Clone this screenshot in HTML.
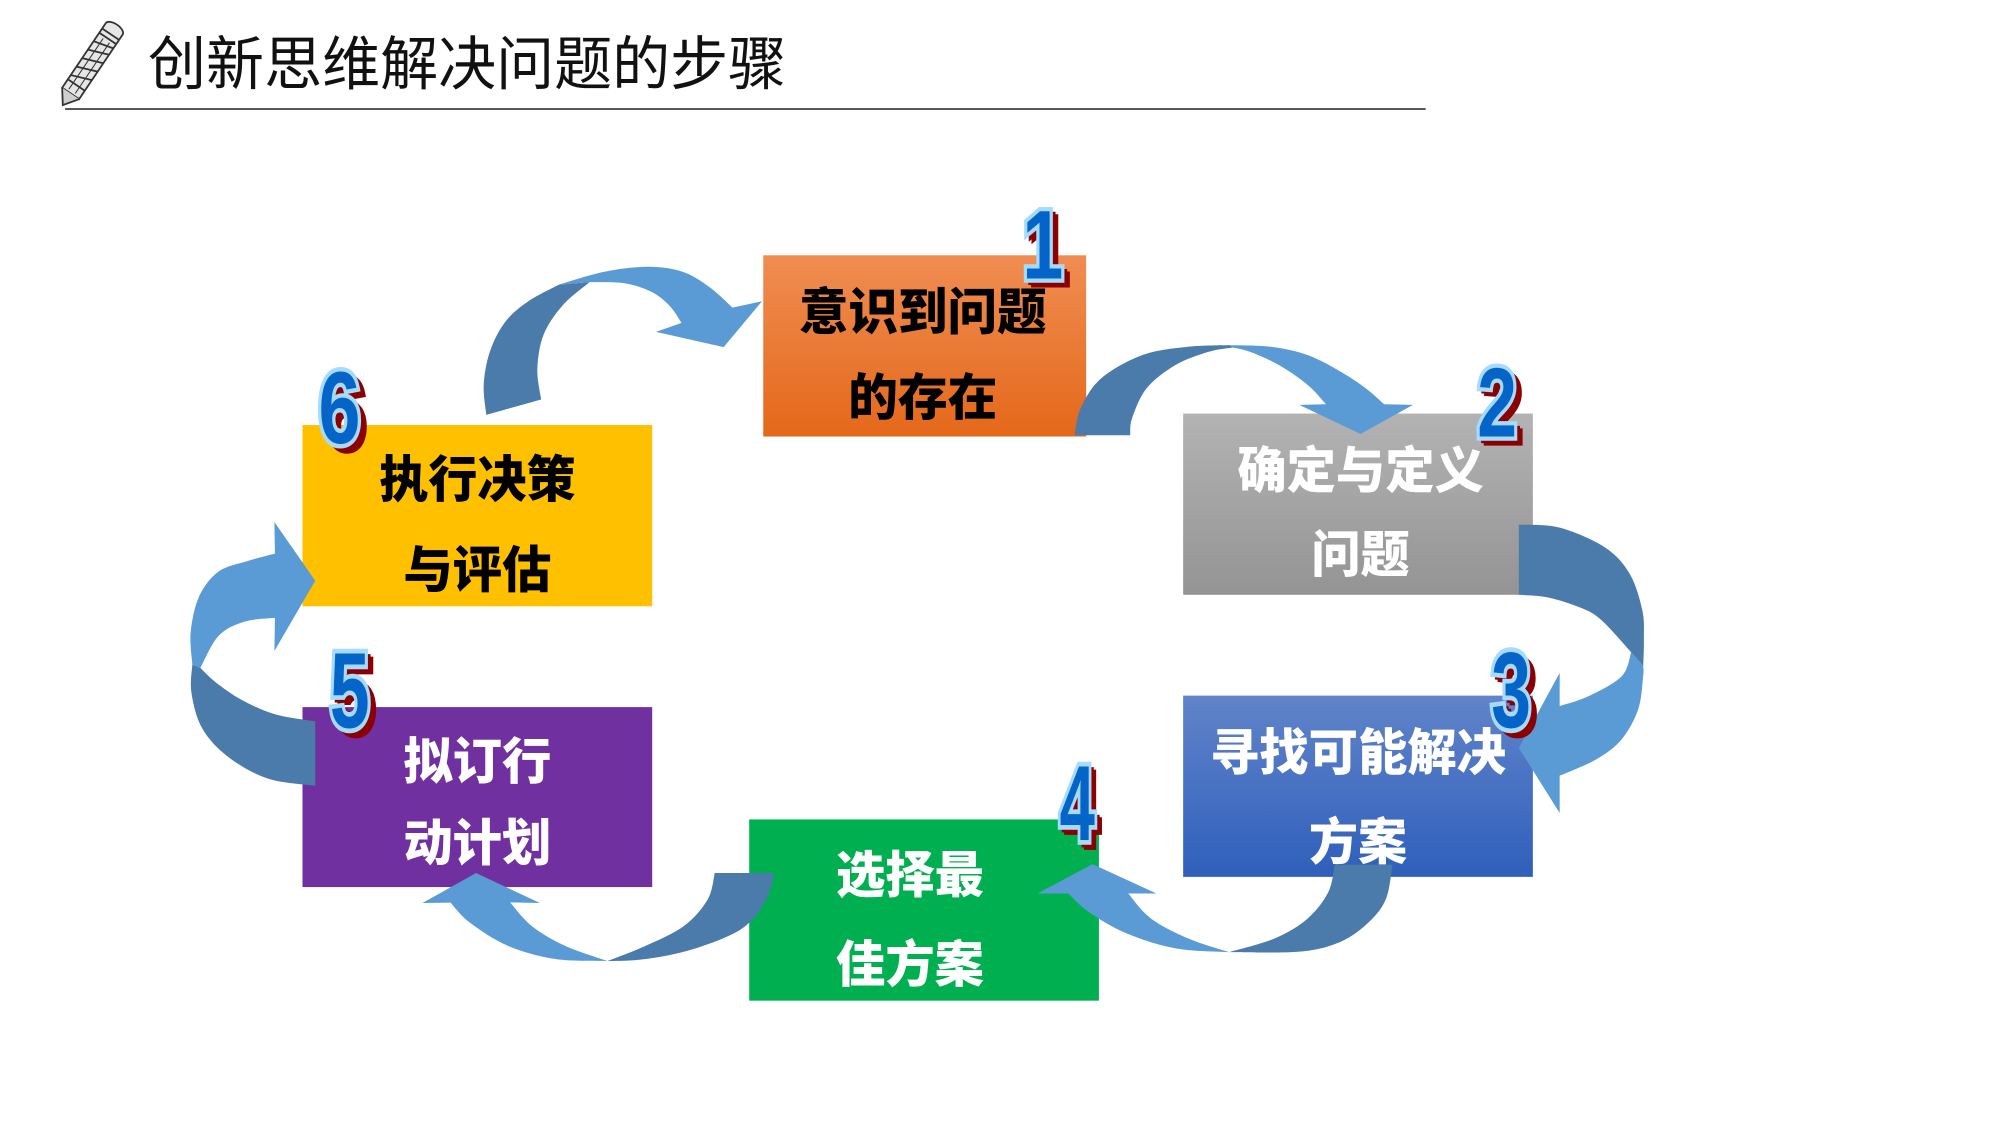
<!DOCTYPE html>
<html>
<head>
<meta charset="utf-8">
<style>
  html,body{margin:0;padding:0;background:#fff;}
  svg{display:block;}
  .bx{font-family:"Liberation Sans","Noto Sans CJK SC","WenQuanYi Zen Hei",sans-serif;font-weight:900;font-size:39px;}
  .dg{font-family:"Liberation Sans",sans-serif;font-weight:bold;font-size:80px;}
</style>
</head>
<body>
<svg width="2000" height="1125" viewBox="0 0 1567 881.4" xmlns="http://www.w3.org/2000/svg">
  <defs>
    <linearGradient id="gO" x1="0" y1="0" x2="0" y2="1">
      <stop offset="0" stop-color="#F08D52"/>
      <stop offset="1" stop-color="#E4681A"/>
    </linearGradient>
    <linearGradient id="gG" x1="0" y1="0" x2="0" y2="1">
      <stop offset="0" stop-color="#B3B3B3"/>
      <stop offset="1" stop-color="#949494"/>
    </linearGradient>
    <linearGradient id="gB" x1="0" y1="0" x2="0" y2="1">
      <stop offset="0" stop-color="#6184CA"/>
      <stop offset="1" stop-color="#2F5FBB"/>
    </linearGradient>
  </defs>

  <!-- pencil icon -->
  <g transform="translate(71,50) rotate(-56)" stroke="#333" stroke-width="1.4" fill="none">
    <path d="M-28,-8 L33,-8 A4,8 0 0 1 33,8 L-28,8 Z" fill="#e6e6e6"/>
    <path d="M-28,-8 L-39,0 L-28,8" fill="#cfcfcf"/>
    <line x1="-20" y1="-8" x2="-20" y2="8"/>
    <line x1="24" y1="-8" x2="24" y2="8"/>
    <line x1="28" y1="-8" x2="28" y2="8"/>
    <line x1="-16" y1="-8" x2="-10" y2="8"/>
    <line x1="-8" y1="-8" x2="-2" y2="8"/>
    <line x1="0" y1="-8" x2="6" y2="8"/>
    <line x1="8" y1="-8" x2="14" y2="8"/>
    <line x1="16" y1="-8" x2="20" y2="8"/>
    <line x1="-26" y1="-3" x2="22" y2="-3" stroke-width="0.8"/>
    <line x1="-26" y1="3" x2="22" y2="3" stroke-width="0.8"/>
  </g>

  <!-- title -->
  <text x="116" y="51" dominant-baseline="central" font-family="'Liberation Sans','Noto Sans CJK SC',sans-serif" font-size="46" fill="#111" textLength="500" lengthAdjust="spacingAndGlyphs">创新思维解决问题的步骤</text>
  <rect x="51" y="84.7" width="1066" height="1.4" fill="#444"/>

  <!-- boxes -->
  <rect x="598" y="200" width="253" height="142" fill="url(#gO)"/>
  <rect x="927" y="324" width="274" height="142" fill="url(#gG)"/>
  <rect x="927" y="545" width="274" height="142" fill="url(#gB)"/>
  <rect x="587" y="642" width="274" height="142" fill="#00B050"/>
  <rect x="237" y="554" width="274" height="141" fill="#7030A0"/>
  <rect x="237" y="333" width="274" height="142" fill="#FFC000"/>

  <!-- arrows -->
  <g>
    <path id="a1d" fill="#4A7BAA" d="M381,325 L379,301 L384,275 L396,252 L414,236 L438,223 L462,221 L441,239 L426,262 L421,289 L424,313 Z"/>
    <path id="a1l" fill="#5B9BD5" d="M438,223 L473,213 L508,209 L535,213 L556,225 L574,241 L597,236 L567,272 L514,260 L534,253 L525,240 L511,229 L490,222 L462,221 Z"/>

    <path id="a2d" fill="#4A7BAA" d="M842,341 L846.6,320 L862.8,296.4 L895,278.2 L930.8,271.7 L963,270.4 L966,272.2 L947,275.6 L921,286 L898.4,304.2 L887,327.6 L885.5,341 Z"/>
    <path id="a2l" fill="#5B9BD5" d="M963,270.4 L995.5,271.7 L1024.6,278.2 L1050.5,291.2 L1070,304.2 L1084.5,316.7 L1107,317.2 L1066,340 L1018,317.2 L1039,316.7 L1024.6,301.6 L1002,286 L979.3,275.6 L966,272.2 Z"/>

    <path id="a3d" fill="#4A7BAA" d="M1190,411 L1222,413.4 L1257.7,429 L1277,449.8 L1286.8,478.4 L1288,500 L1287.5,522 L1278,511 L1254.4,485.6 L1238,476 L1212.5,468 L1190,466 Z"/>
    <path id="a3l" fill="#5B9BD5" d="M1287.5,522 L1287.4,530 L1283.5,555.8 L1270.6,579.2 L1251,594.8 L1222,607.8 L1222,637 L1190,586 L1222,527.2 L1222,553.2 L1244.7,545.4 L1270.6,529.8 L1278,511 Z"/>

    <path id="a4d" fill="#4A7BAA" d="M1045.7,677.5 L1091,677.5 L1086,704 L1073,722 L1050.5,737.8 L1018,745.6 L963,746 L998.8,735.2 L1024.6,719.6 L1040.8,698.8 Z"/>
    <path id="a4l" fill="#5B9BD5" d="M963,746 L921,743 L882,731 L853,714.4 L837,700 L813,700 L856,677 L906,700 L884,700 L901.7,719.6 L930.8,735.2 Z"/>

    <path id="a5d" fill="#4A7BAA" d="M560,684 L607,684 L599,707.2 L580.6,728 L543,743.6 L506,751.4 L476,753 L506,741 L536,725.4 L554.5,704.6 Z"/>
    <path id="a5l" fill="#5B9BD5" d="M476,753 L435,751.4 L397.8,741 L368,722.8 L353,707.2 L331,707.5 L373,684 L423,707.5 L399.7,707 L416.5,725.4 L442.6,741 Z"/>

    <path id="a6d" fill="#4A7BAA" d="M247,615.6 L210,610 L179,593.2 L158.5,570.8 L150,542.8 L150.7,520.5 L157,523.3 L168.8,534.4 L189.5,548.4 L215.4,559.6 L247,565.2 Z"/>
    <path id="a6l" fill="#5B9BD5" d="M150.7,520.5 L149.4,495.3 L156,467.3 L171.4,447.7 L194.7,439.3 L215.4,433.7 L215,409 L247,455 L215,510 L215.4,484.1 L192,486.9 L171.4,498 L157,523.3 Z"/>
  </g>

  <!-- box texts -->
  <g class="bx" text-anchor="middle" dominant-baseline="central">
    <text x="723" y="245" fill="#000" textLength="194" lengthAdjust="spacingAndGlyphs">意识到问题</text>
    <text x="723" y="312" fill="#000" textLength="117" lengthAdjust="spacingAndGlyphs">的存在</text>

    <text x="1066" y="369" fill="#fff" textLength="193" lengthAdjust="spacingAndGlyphs">确定与定义</text>
    <text x="1066" y="435" fill="#fff" textLength="77" lengthAdjust="spacingAndGlyphs">问题</text>

    <text x="1064" y="590" fill="#fff" textLength="232" lengthAdjust="spacingAndGlyphs">寻找可能解决</text>
    <text x="1064" y="660" fill="#fff" textLength="77" lengthAdjust="spacingAndGlyphs">方案</text>

    <text x="713" y="686" fill="#fff" textLength="116" lengthAdjust="spacingAndGlyphs">选择最</text>
    <text x="713" y="756" fill="#fff" textLength="116" lengthAdjust="spacingAndGlyphs">佳方案</text>

    <text x="374" y="597" fill="#fff" textLength="116" lengthAdjust="spacingAndGlyphs">拟订行</text>
    <text x="374" y="661" fill="#fff" textLength="116" lengthAdjust="spacingAndGlyphs">动计划</text>

    <text x="374" y="376" fill="#000" textLength="154" lengthAdjust="spacingAndGlyphs">执行决策</text>
    <text x="374" y="447" fill="#000" textLength="116" lengthAdjust="spacingAndGlyphs">与评估</text>
  </g>

  <!-- step numbers -->
  <g class="dg" text-anchor="middle">
    <g transform="translate(817,218) scale(0.72,0.95)">
      <text x="7" y="5" fill="#8B0000" stroke="#8B0000" stroke-width="5">1</text>
      <text x="4" y="3" fill="#8B0000" stroke="#8B0000" stroke-width="5">1</text>
      <text fill="#0564C8" stroke="#A6DBFF" stroke-width="7" paint-order="stroke">1</text>
    </g>
    <g transform="translate(1173,342) scale(0.7,0.96)">
      <text x="7" y="5" fill="#8B0000" stroke="#8B0000" stroke-width="5">2</text>
      <text x="4" y="3" fill="#8B0000" stroke="#8B0000" stroke-width="5">2</text>
      <text fill="#0564C8" stroke="#A6DBFF" stroke-width="7" paint-order="stroke">2</text>
    </g>
    <g transform="translate(1184,570) scale(0.7,1.05)">
      <text x="7" y="5" fill="#8B0000" stroke="#8B0000" stroke-width="5">3</text>
      <text x="4" y="3" fill="#8B0000" stroke="#8B0000" stroke-width="5">3</text>
      <text fill="#0564C8" stroke="#A6DBFF" stroke-width="7" paint-order="stroke">3</text>
    </g>
    <g transform="translate(844,658) scale(0.62,1.05)">
      <text x="7" y="5" fill="#8B0000" stroke="#8B0000" stroke-width="5">4</text>
      <text x="4" y="3" fill="#8B0000" stroke="#8B0000" stroke-width="5">4</text>
      <text fill="#0564C8" stroke="#A6DBFF" stroke-width="7" paint-order="stroke">4</text>
    </g>
    <g transform="translate(274,570) scale(0.7,1.05)">
      <text x="7" y="5" fill="#8B0000" stroke="#8B0000" stroke-width="5">5</text>
      <text x="4" y="3" fill="#8B0000" stroke="#8B0000" stroke-width="5">5</text>
      <text fill="#0564C8" stroke="#A6DBFF" stroke-width="7" paint-order="stroke">5</text>
    </g>
    <g transform="translate(266,347) scale(0.74,1.0)">
      <text x="7" y="5" fill="#8B0000" stroke="#8B0000" stroke-width="5">6</text>
      <text x="4" y="3" fill="#8B0000" stroke="#8B0000" stroke-width="5">6</text>
      <text fill="#0564C8" stroke="#A6DBFF" stroke-width="7" paint-order="stroke">6</text>
    </g>
  </g>
</svg>
<script>
(function(){
  function sm(p){
    var d='';
    for(var i=0;i<p.length-1;i++){
      var p0=p[i-1]||p[i],p1=p[i],p2=p[i+1],p3=p[i+2]||p2;
      var c1=[p1[0]+(p2[0]-p0[0])/6,p1[1]+(p2[1]-p0[1])/6];
      var c2=[p2[0]-(p3[0]-p1[0])/6,p2[1]-(p3[1]-p1[1])/6];
      d+=' C'+c1[0].toFixed(2)+','+c1[1].toFixed(2)+' '+c2[0].toFixed(2)+','+c2[1].toFixed(2)+' '+p2[0]+','+p2[1];
    }
    return d;
  }
  function build(segs){
    var d='M'+segs[0][1][0][0]+','+segs[0][1][0][1];
    segs.forEach(function(s){
      if(s[0]==='s'){d+=sm(s[1]);}
      else{s[1].forEach(function(p){d+=' L'+p[0]+','+p[1];});}
    });
    return d+' Z';
  }
  var P={
    a1d:[['s',[[381,325],[379,301],[384,275],[396,252],[414,236],[438,223]]],['l',[[462,221]]],['s',[[462,221],[441,239],[426,262],[421,289],[424,313]]]],
    a1l:[['s',[[438,223],[473,213],[508,209],[535,213],[556,225],[574,241]]],['l',[[597,236],[567,272],[514,260],[534,253]]],['s',[[534,253],[525,240],[511,229],[490,222],[462,221]]]],
    a2d:[['s',[[842,341],[846.6,320],[862.8,296.4],[895,278.2],[930.8,271.7],[963,270.4]]],['l',[[966,272.2]]],['s',[[966,272.2],[947,275.6],[921,286],[898.4,304.2],[887,327.6],[885.5,341]]]],
    a2l:[['s',[[963,270.4],[995.5,271.7],[1024.6,278.2],[1050.5,291.2],[1070,304.2],[1084.5,316.7]]],['l',[[1107,317.2],[1066,340],[1018,317.2],[1039,316.7]]],['s',[[1039,316.7],[1024.6,301.6],[1002,286],[979.3,275.6],[966,272.2]]]],
    a3d:[['s',[[1190,411],[1222,413.4],[1257.7,429],[1277,449.8],[1286.8,478.4],[1288,500],[1287.5,522]]],['l',[[1278,511]]],['s',[[1278,511],[1254.4,485.6],[1238,476],[1212.5,468],[1190,466]]]],
    a3l:[['s',[[1287.5,522],[1287.4,530],[1283.5,555.8],[1270.6,579.2],[1251,594.8],[1222,607.8]]],['l',[[1222,637],[1190,586],[1222,527.2],[1222,553.2]]],['s',[[1222,553.2],[1244.7,545.4],[1270.6,529.8],[1278,511]]]],
    a4d:[['l',[[1045.7,677.5],[1091,677.5]]],['s',[[1091,677.5],[1086,704],[1073,722],[1050.5,737.8],[1018,745.6],[963,746]]],['s',[[963,746],[998.8,735.2],[1024.6,719.6],[1040.8,698.8],[1045.7,677.5]]]],
    a4l:[['s',[[963,746],[921,743],[882,731],[853,714.4],[837,700]]],['l',[[813,700],[856,677],[906,700],[884,700]]],['s',[[884,700],[901.7,719.6],[930.8,735.2],[963,746]]]],
    a5d:[['l',[[560,684],[607,684]]],['s',[[607,684],[599,707.2],[580.6,728],[543,743.6],[506,751.4],[476,753]]],['s',[[476,753],[506,741],[536,725.4],[554.5,704.6],[560,684]]]],
    a5l:[['s',[[476,753],[435,751.4],[397.8,741],[368,722.8],[353,707.2]]],['l',[[331,707.5],[373,684],[423,707.5],[399.7,707]]],['s',[[399.7,707],[416.5,725.4],[442.6,741],[476,753]]]],
    a6d:[['s',[[247,615.6],[210,610],[179,593.2],[158.5,570.8],[150,542.8],[150.7,520.5]]],['l',[[157,523.3]]],['s',[[157,523.3],[168.8,534.4],[189.5,548.4],[215.4,559.6],[247,565.2]]]],
    a6l:[['s',[[150.7,520.5],[149.4,495.3],[156,467.3],[171.4,447.7],[194.7,439.3],[215.4,433.7]]],['l',[[215,409],[247,455],[215,510],[215.4,484.1]]],['s',[[215.4,484.1],[192,486.9],[171.4,498],[157,523.3]]]]
  };
  try{
    for(var k in P){
      var el=document.getElementById(k);
      if(el){el.setAttribute('d',build(P[k]));}
    }
  }catch(e){}
})();
</script>
</body>
</html>
